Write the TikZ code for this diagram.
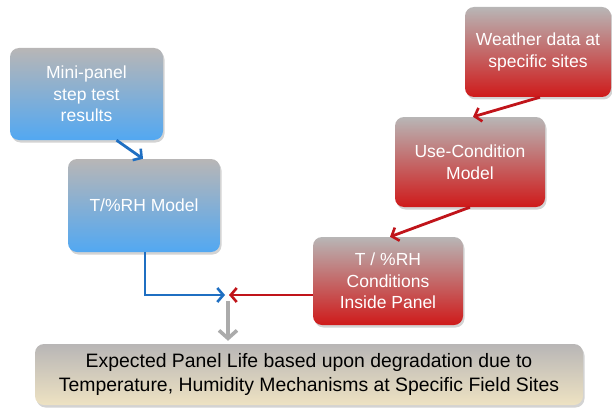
\documentclass[tikz,border=0pt]{standalone}
\usepackage{fontspec}
\setmainfont{Liberation Sans}
\usetikzlibrary{arrows.meta,shadows,calc}
\definecolor{bluebot}{HTML}{52A8F2}
\definecolor{bluemid}{HTML}{8DB6DD}
\definecolor{boxtop}{HTML}{B8B6B6}
\definecolor{redbot}{HTML}{CF1A1A}
\definecolor{redmid}{HTML}{C66A6A}
\definecolor{tanbot}{HTML}{EEE2C2}
\definecolor{tanmid}{HTML}{D8D2C2}
\definecolor{lineblue}{HTML}{1F6FC2}
\definecolor{linered}{HTML}{C0141A}
\definecolor{linegray}{HTML}{ABABAB}
\tikzset{
  basebox/.style={rounded corners=9pt, align=center, inner sep=2pt,
    font=\fontsize{17.5}{21.5}\selectfont,
    drop shadow={shadow xshift=1.5pt,shadow yshift=-2.5pt,opacity=0.35}},
  bluebox/.style={basebox, text=white, top color=boxtop, middle color=bluemid, bottom color=bluebot},
  redbox/.style={basebox, text=white, top color=boxtop, middle color=redmid, bottom color=redbot},
  tanbox/.style={basebox, text=black, top color=boxtop, middle color=tanmid, bottom color=tanbot,
    font=\fontsize{19.4}{24}\selectfont},
  bluearrow/.style={draw=lineblue, line width=2.8pt, -{Straight Barb[length=6pt,width=14pt,line width=2.6pt]}},
  redarrow/.style={draw=linered, line width=2.8pt, -{Straight Barb[length=6pt,width=14pt,line width=2.6pt]}},
  grayarrow/.style={draw=linegray, line width=4pt, -{Straight Barb[length=8pt,width=18pt,line width=3.6pt]}},
}
\begin{document}
\begin{tikzpicture}[x=1pt,y=-1pt]
\path[use as bounding box] (0,0) rectangle (612,417);
\node[bluebox, minimum width=153pt, minimum height=92pt] (mini) at (86.5,94) {Mini-panel\\step test\\results};
\node[bluebox, minimum width=152pt, minimum height=93pt] (model) at (144,205.5) {T/\%RH Model};
\node[redbox, minimum width=146pt, minimum height=90pt] (weather) at (538,52) {Weather data at\\specific sites};
\node[redbox, minimum width=150pt, minimum height=90pt] (use) at (470,162) {Use-Condition\\Model};
\node[redbox, minimum width=150pt, minimum height=88pt] (cond) at (388,281) {T / \%RH\\Conditions\\Inside Panel};
\node[tanbox, minimum width=548pt, minimum height=61pt] (life) at (309,374.5) {Expected Panel Life based upon degradation due to\\Temperature, Humidity Mechanisms at Specific Field Sites};
\coordinate (j) at (228,295);
\draw[bluearrow] ([xshift=30pt]mini.south) -- ([xshift=-1pt]model.north);
\draw[redarrow] ([xshift=2pt]weather.south) -- ([xshift=3pt]use.north);
\draw[redarrow] (use.south) -- ([xshift=2pt]cond.north);
\draw[bluearrow] ([xshift=1pt]model.south) |- ([xshift=-3pt]j);
\draw[redarrow] (cond.west |- j) -- ([xshift=1pt]j);
\draw[grayarrow] ([yshift=-6pt]j) -- ([yshift=3pt]j |- life.north);
\end{tikzpicture}
\end{document}
